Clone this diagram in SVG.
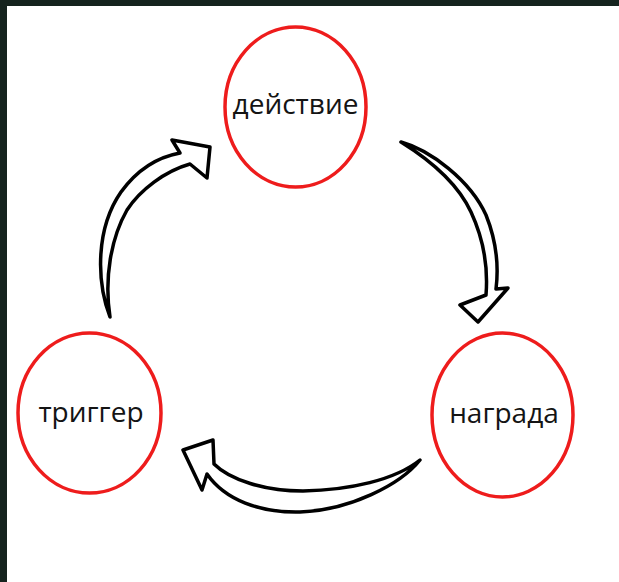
<svg xmlns="http://www.w3.org/2000/svg" width="619" height="582" viewBox="0 0 619 582">
<style>
.node ellipse{fill:none;stroke:#ee1c1c;stroke-width:3.5}
.node text{font-family:"Open Sans","Noto Sans","DejaVu Sans",sans-serif;font-size:28px;font-weight:400;fill:#141414;text-anchor:middle}
.arrow{fill:#fff;stroke:#000;stroke-width:3.5;stroke-linejoin:round}
</style>
<rect x="0" y="0" width="619" height="582" fill="#15231e"/>
<rect x="7" y="6" width="612" height="576" fill="#fff"/>
<g id="connectors">
<path class="arrow" d="M401,142 C430,150 470,180 486,215 C496,240 499,265 496,289 L508,288 L478,322 L460,305 L486,295 C488,270 484,240 471,212 C457,182 430,160 401,142 Z"/>
<path class="arrow" d="M420,460 C400,485 350,510 300,512 C260,513 225,500 207,474 L202,490 L183,450 L213,440 L214,464 C230,480 265,491 303,491 C350,490 395,480 420,460 Z"/>
<path class="arrow" d="M110,317 C96,280 96,228 121,192 C137,170 158,157 180,153 L172,140 L210,147 L207,178 L190,164 C165,171 140,190 127,210 C111,238 104,278 110,317 Z"/>
</g>
<g id="node-action" class="node">
<ellipse cx="295.5" cy="107" rx="70.5" ry="80"/>
<text x="295.5" y="114">действие</text>
</g>
<g id="node-trigger" class="node">
<ellipse cx="89.5" cy="413" rx="71.5" ry="80"/>
<text x="91" y="422">триггер</text>
</g>
<g id="node-reward" class="node">
<ellipse cx="502.5" cy="415" rx="70.5" ry="82"/>
<text x="504" y="423">награда</text>
</g>
</svg>
